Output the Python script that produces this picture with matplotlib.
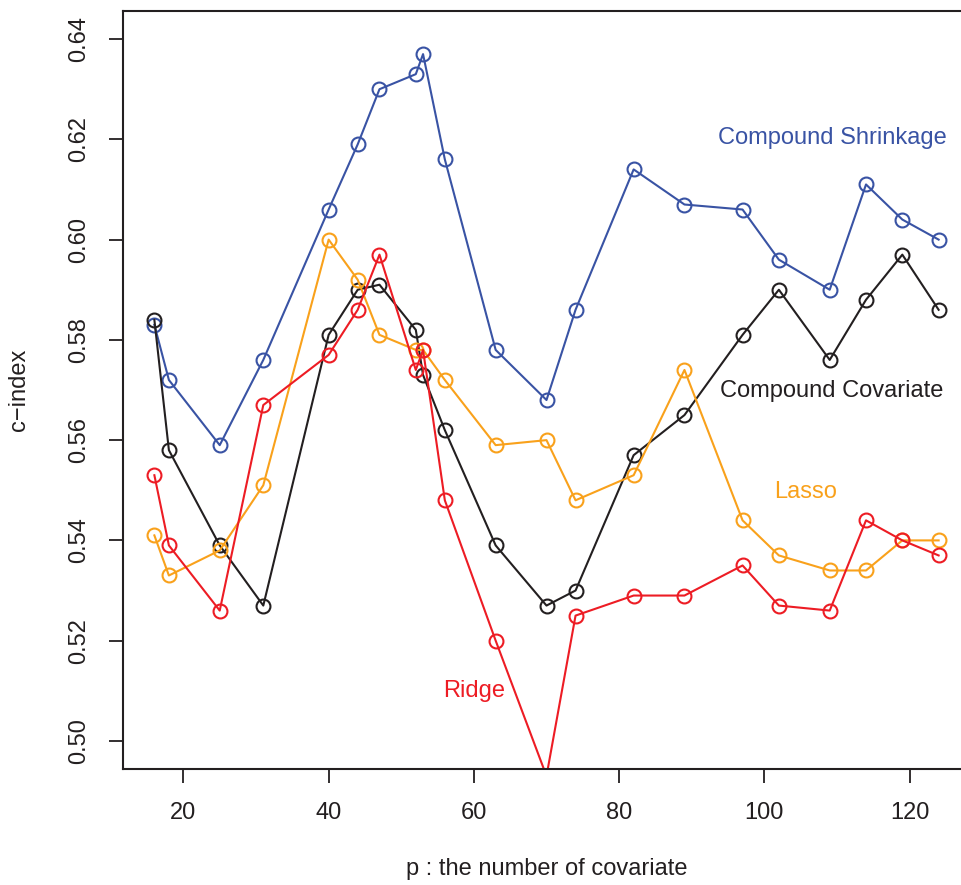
import matplotlib
matplotlib.use("Agg")
import matplotlib.pyplot as plt

plt.rcParams['font.family'] = ['Liberation Sans', 'DejaVu Sans']

# number of covariates
p = [16, 18, 25, 31, 40, 44, 47, 52, 53, 56, 63, 70, 74, 82, 89, 97, 102, 109, 114, 119, 124]

shrinkage = [0.583, 0.572, 0.559, 0.576, 0.606, 0.619, 0.630, 0.633, 0.637, 0.616, 0.578,
             0.568, 0.586, 0.614, 0.607, 0.606, 0.596, 0.590, 0.611, 0.604, 0.600]
covariate = [0.584, 0.558, 0.539, 0.527, 0.581, 0.590, 0.591, 0.582, 0.573, 0.562, 0.539,
             0.527, 0.530, 0.557, 0.565, 0.581, 0.590, 0.576, 0.588, 0.597, 0.586]
lasso = [0.541, 0.533, 0.538, 0.551, 0.600, 0.592, 0.581, 0.578, 0.578, 0.572, 0.559,
         0.560, 0.548, 0.553, 0.574, 0.544, 0.537, 0.534, 0.534, 0.540, 0.540]
ridge = [0.553, 0.539, 0.526, 0.567, 0.577, 0.586, 0.597, 0.574, 0.578, 0.548, 0.520,
         0.493, 0.525, 0.529, 0.529, 0.535, 0.527, 0.526, 0.544, 0.540, 0.537]

blue = '#3953a4'
black = '#231f20'
orange = '#f9a11b'
red = '#ed1c24'

fig = plt.figure(figsize=(9.62, 8.85), dpi=100)
ax = fig.add_axes([123 / 962, (885 - 769) / 885, (970 - 123) / 962, (769 - 11) / 885])

style = dict(marker='o', markerfacecolor='none', markersize=10, markeredgewidth=1.5, linewidth=1.5)
ax.plot(p, shrinkage, color=blue, **style)
ax.plot(p, covariate, color=black, **style)
ax.plot(p, lasso, color=orange, **style)
ax.plot(p, ridge, color=red, **style)

fs = 17
ax.text(109.3, 0.6202, 'Compound Shrinkage', color=blue, fontsize=fs, ha='center', va='center')
ax.text(109.3, 0.5698, 'Compound Covariate', color=black, fontsize=fs, ha='center', va='center')
ax.text(105.7, 0.5497, 'Lasso', color=orange, fontsize=fs, ha='center', va='center')
ax.text(60.0, 0.5099, 'Ridge', color=red, fontsize=fs, ha='center', va='center')

ax.set_xlim(11.68, 128.32)
ax.set_ylim(0.4944, 0.6456)
ax.set_xticks([20, 40, 60, 80, 100, 120])
ax.set_yticks([0.50, 0.52, 0.54, 0.56, 0.58, 0.60, 0.62, 0.64])
ax.set_yticklabels(['0.50', '0.52', '0.54', '0.56', '0.58', '0.60', '0.62', '0.64'],
                   rotation=90, va='center')
ax.tick_params(direction='out', length=10, width=1.3, labelsize=fs, colors=black, pad=14)
for s in ax.spines.values():
    s.set_linewidth(1.5)
    s.set_color(black)

ax.set_xlabel('p : the number of covariate', fontsize=fs, color=black, labelpad=24)
ax.set_ylabel('c\u2212index', fontsize=fs, color=black, labelpad=27)

fig.savefig('out.png', dpi=100)
